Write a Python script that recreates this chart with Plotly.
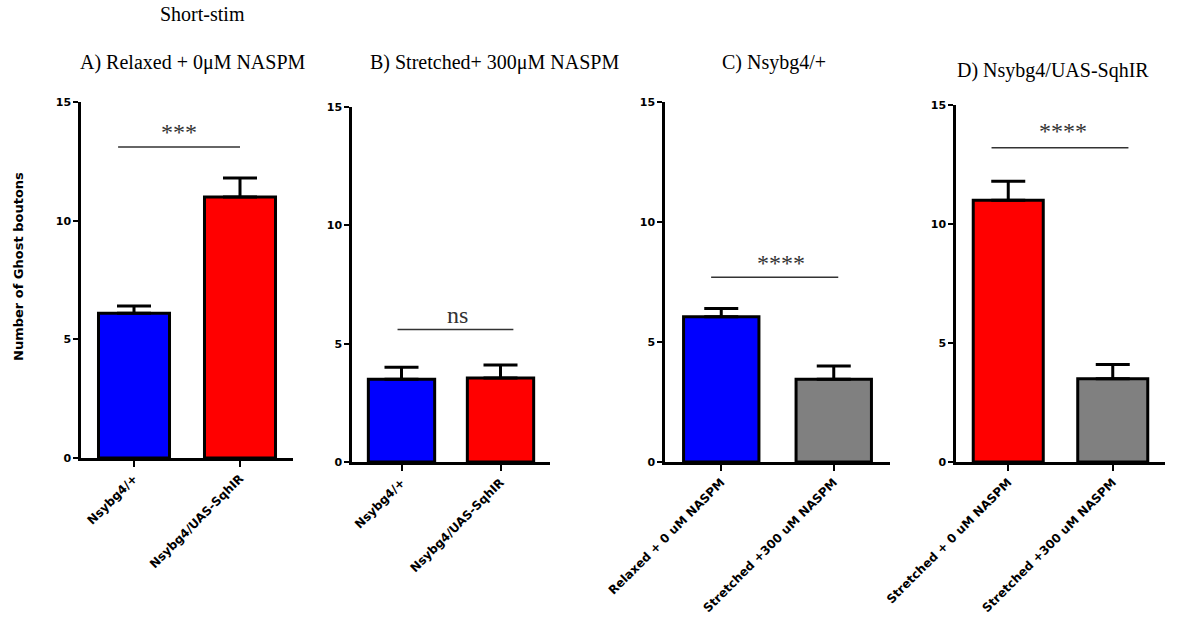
import plotly.graph_objects as go

W, H = 1183, 630

# ---- data ----
panel_titles = ["A) Relaxed + 0μM NASPM", "B) Stretched+ 300μM NASPM",
                "C) Nsybg4/+", "D) Nsybg4/UAS-SqhIR"]
cats_A = ["Nsybg4/+", "Nsybg4/UAS-SqhIR"]
vals_A = [6.1, 11.0]
err_A = [0.3, 0.8]
cats_B = ["Nsybg4/+", "Nsybg4/UAS-SqhIR"]
vals_B = [3.5, 3.55]
err_B = [0.5, 0.55]
cats_C = ["Relaxed + 0 uM NASPM", "Stretched +300 uM NASPM"]
vals_C = [6.05, 3.45]
err_C = [0.35, 0.55]
cats_D = ["Stretched + 0 uM NASPM", "Stretched +300 uM NASPM"]
vals_D = [11.0, 3.5]
err_D = [0.8, 0.6]
colors_A = ["#0000FF", "#FF0000"]
colors_B = ["#0000FF", "#FF0000"]
colors_C = ["#0000FF", "#808080"]
colors_D = ["#FF0000", "#808080"]
sig_labels = ["***", "ns", "****", "****"]
sig_line_y = [13.1, 5.6, 7.7, 13.2]
sig_line_x = [(-0.15, 1.0), (-0.04, 1.13), (-0.09, 1.04), (-0.16, 1.15)]
sig_text_x = [0.42, 0.57, 0.53, 0.52]
sig_text_y = [13.75, 6.2, 8.3, 13.9]
y_ticks = [0, 5, 10, 15]

# ---- layout geometry (pixels) ----
x_px = [(81, 293), (352, 550), (665, 890), (956, 1165)]
y_px = [(102, 458), (107, 462), (102, 462), (105, 462)]
title_pos = [(193, 63), (494, 63), (774, 63), (1053, 70)]

panels = [
    (cats_A, vals_A, err_A, colors_A),
    (cats_B, vals_B, err_B, colors_B),
    (cats_C, vals_C, err_C, colors_C),
    (cats_D, vals_D, err_D, colors_D),
]

SERIF = "Liberation Serif, Times New Roman, serif"
SANS = "DejaVu Sans, Liberation Sans, Arial"

fig = go.Figure()
layout = dict(
    template="none",
    width=W, height=H, margin=dict(l=0, r=0, t=0, b=0, pad=0, autoexpand=False),
    paper_bgcolor="white", plot_bgcolor="white", showlegend=False,
    font=dict(family=SANS, color="black"),
)
annotations = []

for i, (cats, vals, errs, cols) in enumerate(panels):
    n = "" if i == 0 else str(i + 1)
    xa, ya = "x" + n, "y" + n
    fig.add_trace(go.Bar(
        x=list(range(len(cats))), y=vals, width=0.67,
        marker=dict(color=cols, line=dict(color="black", width=3)),
        error_y=dict(type="data", symmetric=False, array=errs,
                     arrayminus=[0] * len(errs), color="black",
                     thickness=3, width=17),
        xaxis=xa, yaxis=ya, cliponaxis=False,
    ))
    x0, x1 = sig_line_x[i]
    fig.add_trace(go.Scatter(
        x=[x0, x1], y=[sig_line_y[i]] * 2, mode="lines",
        line=dict(color="#333333", width=1.5),
        xaxis=xa, yaxis=ya, hoverinfo="skip",
    ))
    (px0, px1), (py0, py1) = x_px[i], y_px[i]
    layout["xaxis" + n] = dict(
        domain=[px0 / W, px1 / W], range=[-0.5, 1.5], automargin=False,
        anchor=ya, tickmode="array", tickvals=list(range(len(cats))),
        ticktext=cats, tickangle=-45, ticks="outside", ticklen=6,
        tickwidth=2, tickcolor="black", showline=True, linecolor="black",
        linewidth=2.5, showgrid=False, zeroline=False,
        tickfont=dict(family=SANS, size=12, color="black", weight="bold"),
    )
    layout["yaxis" + n] = dict(
        domain=[1 - py1 / H, 1 - py0 / H], range=[0, 15], automargin=False,
        anchor=xa, tickmode="array", tickvals=y_ticks,
        ticks="outside", ticklen=5, tickwidth=2, tickcolor="black",
        showline=True, linecolor="black", linewidth=2.5,
        showgrid=False, zeroline=False,
        tickfont=dict(family=SANS, size=11, color="black", weight="bold"),
    )
    annotations.append(dict(
        x=sig_text_x[i], y=sig_text_y[i], xref=xa, yref=ya,
        xanchor="center", yanchor="middle",
        text=sig_labels[i], showarrow=False,
        font=dict(family=SERIF, size=24, color="#333333"),
    ))
    tx, ty = title_pos[i]
    annotations.append(dict(
        x=tx / W, y=1 - ty / H, xref="paper", yref="paper",
        xanchor="center", yanchor="middle",
        text=panel_titles[i], showarrow=False,
        font=dict(family=SERIF, size=20, color="black"),
    ))

annotations.append(dict(
    x=202 / W, y=1 - 14 / H, xref="paper", yref="paper",
    xanchor="center", yanchor="middle",
    text="Short-stim", showarrow=False,
    font=dict(family=SERIF, size=20, color="black"),
))
annotations.append(dict(
    x=18 / W, y=1 - 267 / H, xref="paper", yref="paper",
    xanchor="center", yanchor="middle",
    text="Number of Ghost boutons", showarrow=False, textangle=-90,
    font=dict(family=SANS, size=13, color="black", weight="bold"),
))
layout["annotations"] = annotations
fig.update_layout(**layout)
fig.write_html("out.html")
